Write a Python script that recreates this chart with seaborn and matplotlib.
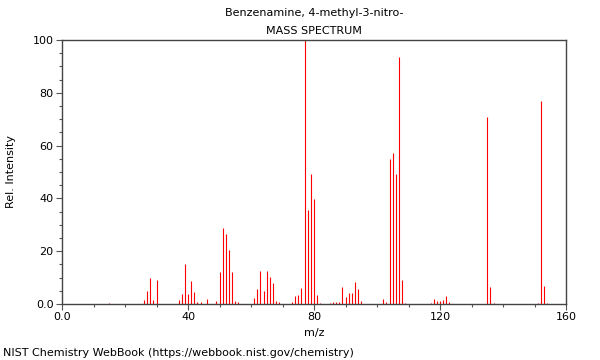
import matplotlib
matplotlib.use("Agg")
import matplotlib.pyplot as plt
import seaborn as sns
from matplotlib.ticker import MultipleLocator, FuncFormatter

# peaks (m/z, relative intensity)
mz = [15, 26, 27, 28, 29, 30, 37, 38, 39, 40, 41, 42, 43, 44, 46,
      49, 50, 51, 52, 53, 54, 55, 56, 61, 62, 63, 64, 65, 66, 67, 68, 69,
      73, 74, 75, 76, 77, 78, 79, 80, 81, 82, 85, 86, 87, 88, 89, 90, 91,
      92, 93, 94, 95, 102, 103, 104, 105, 106, 107, 108, 109,
      117, 118, 119, 120, 121, 122, 123, 135, 136, 137, 151, 152, 153, 154]
intensity = [0.3, 1.5, 4.9, 10.0, 1.5, 9.2, 1.5, 3.8, 15.0, 3.7, 8.6, 4.7, 0.8, 0.7, 1.9,
             1.1, 12.1, 28.8, 26.4, 20.5, 12.1, 1.3, 0.6, 2.1, 5.7, 12.4, 4.9, 12.4, 10.1, 7.8, 1.1, 0.6,
             0.6, 3.0, 3.3, 5.9, 100.0, 35.5, 49.2, 39.8, 3.4, 0.4, 0.4, 0.6, 0.6, 0.6, 6.6, 2.8, 4.0,
             4.0, 8.2, 5.7, 1.1, 1.9, 0.8, 54.9, 57.3, 49.2, 93.6, 9.0, 0.4,
             0.5, 2.0, 1.1, 1.1, 1.6, 3.2, 0.6, 70.7, 6.6, 0.5, 0.4, 77.0, 6.7, 0.5]

title = "Benzenamine, 4-methyl-3-nitro-\nMASS SPECTRUM"

sns.set_style("ticks")
plt.rcParams['font.family'] = ['DejaVu Sans']
plt.rcParams['text.color'] = 'black'
plt.rcParams['axes.labelcolor'] = 'black'

fig = plt.figure(figsize=(6, 3.6), dpi=100)
ax = fig.add_axes([62/600, 1 - 304/360, 504/600, 264/360])

ax.vlines(mz, 0, intensity, color="red", linewidth=0.8)

ax.set_xlim(0, 160)
ax.set_ylim(0, 100)
ax.xaxis.set_major_locator(MultipleLocator(40))
ax.xaxis.set_minor_locator(MultipleLocator(10))
ax.yaxis.set_major_locator(MultipleLocator(20))
ax.yaxis.set_minor_locator(MultipleLocator(5))
fmt = FuncFormatter(lambda v, p: "0.0" if v == 0 else "%d" % v)
ax.xaxis.set_major_formatter(fmt)
ax.yaxis.set_major_formatter(fmt)
ax.tick_params(which="major", length=4, width=0.8, color="#555555",
               labelcolor="black", labelsize=8, pad=2)
ax.tick_params(which="minor", length=2, width=0.8, color="#555555")
for s in ax.spines.values():
    s.set_color("#444444")
    s.set_linewidth(1)

ax.set_title(title, fontsize=8, linespacing=2.0, pad=4, color="black")
ax.set_xlabel("m/z", fontsize=8, labelpad=4)
ax.set_ylabel("Rel. Intensity", fontsize=8, labelpad=12)
fig.text(3/600, 1 - 353/360, "NIST Chemistry WebBook (https://webbook.nist.gov/chemistry)",
         fontsize=8, va="center", ha="left")

plt.savefig("out.png", dpi=100)
